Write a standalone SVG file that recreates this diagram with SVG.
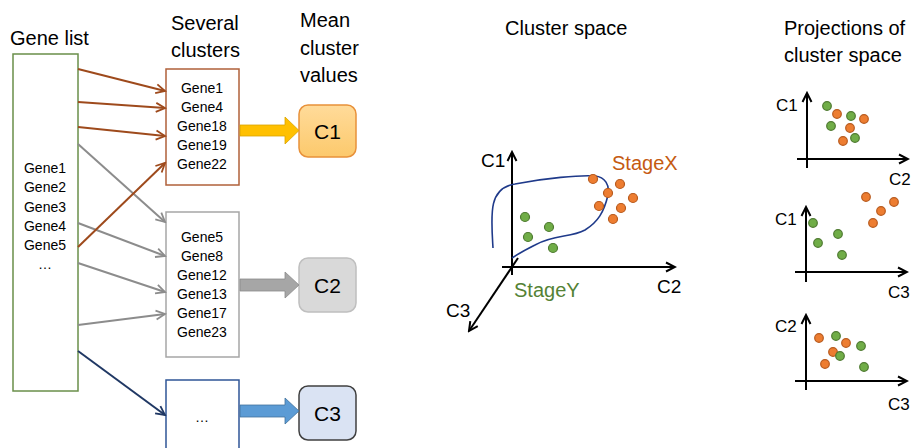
<svg xmlns="http://www.w3.org/2000/svg" width="917" height="448" viewBox="0 0 917 448">
<style>
text{font-family:"Liberation Sans",Arial,sans-serif;fill:#000}
.h{font-size:20px}
.g{font-size:14px;text-anchor:middle}
.c{font-size:21px;text-anchor:middle}
.ax{font-size:19px}
.pl{font-size:17px}
.box{fill:#fff;stroke-width:1.5}
.ln{fill:none;stroke-width:2}
.axis{fill:none;stroke:#000;stroke-width:2;marker-end:url(#mk)}
.o{fill:#ed7d31;stroke:#b85a1d;stroke-width:1.2}
.gr{fill:#70ad47;stroke:#4e7a30;stroke-width:1.2}
</style>
<defs>
<marker id="mb" markerUnits="userSpaceOnUse" markerWidth="12" markerHeight="12" refX="10" refY="5" orient="auto" viewBox="0 0 12 10"><path d="M1,0.5 L10,5 L1,9.5" fill="none" stroke="#9e4a1c" stroke-width="1.8"/></marker>
<marker id="mg" markerUnits="userSpaceOnUse" markerWidth="12" markerHeight="12" refX="10" refY="5" orient="auto" viewBox="0 0 12 10"><path d="M1,0.5 L10,5 L1,9.5" fill="none" stroke="#8c8c8c" stroke-width="1.8"/></marker>
<marker id="mn" markerUnits="userSpaceOnUse" markerWidth="12" markerHeight="12" refX="10" refY="5" orient="auto" viewBox="0 0 12 10"><path d="M1,0.5 L10,5 L1,9.5" fill="none" stroke="#203864" stroke-width="1.8"/></marker>
<marker id="mk" markerUnits="userSpaceOnUse" markerWidth="12" markerHeight="12" refX="10" refY="5" orient="auto" viewBox="0 0 12 10"><path d="M1,0.5 L10,5 L1,9.5" fill="none" stroke="#000" stroke-width="2"/></marker>
<linearGradient id="gC1" x1="0" y1="0" x2="0" y2="1"><stop offset="0" stop-color="#ffdb9a"/><stop offset="1" stop-color="#fcc96c"/></linearGradient>
</defs>

<g id="titles">
<text class="h" x="10" y="45">Gene list</text>
<text class="h" x="171" y="30">Several</text>
<text class="h" x="171" y="57">clusters</text>
<text class="h" x="300" y="27">Mean</text>
<text class="h" x="300" y="55">cluster</text>
<text class="h" x="300" y="82">values</text>
<text class="h" x="505" y="35">Cluster space</text>
<text class="h" x="784" y="35">Projections of</text>
<text class="h" x="784" y="62">cluster space</text>
</g>

<g id="gene-list">
<rect class="box" x="13" y="54" width="65" height="337" stroke="#6a8f4a"/>
<text class="g" x="45" y="173">Gene1</text>
<text class="g" x="45" y="192">Gene2</text>
<text class="g" x="45" y="212">Gene3</text>
<text class="g" x="45" y="231">Gene4</text>
<text class="g" x="45" y="250">Gene5</text>
<text class="g" x="45" y="269">…</text>
</g>

<g id="cluster1">
<rect class="box" x="166" y="69" width="73" height="116" stroke="#b0603a"/>
<text class="g" x="202" y="93">Gene1</text>
<text class="g" x="202" y="112">Gene4</text>
<text class="g" x="202" y="131">Gene18</text>
<text class="g" x="202" y="150">Gene19</text>
<text class="g" x="202" y="169">Gene22</text>
</g>

<g id="cluster2">
<rect class="box" x="166" y="212" width="73" height="145" stroke="#a6a6a6"/>
<text class="g" x="202" y="242">Gene5</text>
<text class="g" x="202" y="261">Gene8</text>
<text class="g" x="202" y="280">Gene12</text>
<text class="g" x="202" y="299">Gene13</text>
<text class="g" x="202" y="318">Gene17</text>
<text class="g" x="202" y="337">Gene23</text>
</g>

<g id="cluster3">
<rect class="box" x="166" y="380" width="73" height="80" stroke="#2f5597"/>
<text class="g" x="202" y="422">…</text>
</g>

<g id="C1">
<rect x="299" y="105" width="57" height="52" rx="9" fill="url(#gC1)" stroke="#e8913a" stroke-width="1.5"/>
<text class="c" x="327.5" y="139">C1</text>
</g>
<g id="C2">
<rect x="299" y="258" width="57" height="54" rx="9" fill="#d9d9d9" stroke="#bfbfbf" stroke-width="1.5"/>
<text class="c" x="327.5" y="293">C2</text>
</g>
<g id="C3">
<rect x="299" y="386" width="57" height="54" rx="9" fill="#dae3f3" stroke="#404040" stroke-width="1.5"/>
<text class="c" x="327.5" y="421">C3</text>
</g>

<g id="connectors">
<line class="ln" x1="78" y1="69" x2="165" y2="91" stroke="#9e4a1c" marker-end="url(#mb)"/>
<line class="ln" x1="78" y1="102" x2="165" y2="108" stroke="#9e4a1c" marker-end="url(#mb)"/>
<line class="ln" x1="78" y1="127" x2="165" y2="136" stroke="#9e4a1c" marker-end="url(#mb)"/>
<line class="ln" x1="78" y1="144" x2="165" y2="222" stroke="#8c8c8c" marker-end="url(#mg)"/>
<line class="ln" x1="78" y1="223" x2="165" y2="256" stroke="#8c8c8c" marker-end="url(#mg)"/>
<line class="ln" x1="78" y1="263" x2="165" y2="292" stroke="#8c8c8c" marker-end="url(#mg)"/>
<line class="ln" x1="78" y1="325" x2="165" y2="314" stroke="#8c8c8c" marker-end="url(#mg)"/>
<line class="ln" x1="78" y1="247" x2="165" y2="163" stroke="#9e4a1c" marker-end="url(#mb)"/>
<line class="ln" x1="78" y1="351" x2="165" y2="415" stroke="#203864" marker-end="url(#mn)"/>
<polygon points="240,125 285,125 285,117 299,130.5 285,144 285,136 240,136" fill="#ffc000" stroke="#d9a300" stroke-width="0.8"/>
<polygon points="240,279 285,279 285,272 299,285 285,298 285,291 240,291" fill="#a6a6a6" stroke="#8c8c8c" stroke-width="0.8"/>
<polygon points="240,405 285,405 285,398 299,411 285,424 285,417 240,417" fill="#5b9bd5" stroke="#41719c" stroke-width="0.8"/>
</g>

<g id="cluster-space">
<line class="axis" x1="512" y1="275" x2="512" y2="152"/>
<line class="axis" x1="502" y1="267" x2="675" y2="267"/>
<line class="axis" x1="518" y1="258" x2="469" y2="331"/>
<path d="M493,248 C491,215 488,188 515,184 C545,178 580,175 595,176 C605,177 610,185 608,195 C604,212 598,222 585,230 C570,238 555,234 535,245 C525,250 518,254 512,258" fill="none" stroke="#1f3a8a" stroke-width="1.6"/>
<circle class="o" cx="593" cy="179" r="4.5"/>
<circle class="o" cx="620" cy="184" r="4.5"/>
<circle class="o" cx="608" cy="193" r="4.5"/>
<circle class="o" cx="633" cy="198" r="4.5"/>
<circle class="o" cx="599" cy="206" r="4.5"/>
<circle class="o" cx="621" cy="208" r="4.5"/>
<circle class="o" cx="613" cy="219" r="4.5"/>
<circle class="gr" cx="525" cy="217" r="4.5"/>
<circle class="gr" cx="549" cy="227" r="4.5"/>
<circle class="gr" cx="528" cy="237" r="4.5"/>
<circle class="gr" cx="553" cy="248" r="4.5"/>
<text class="ax" x="481" y="167">C1</text>
<text class="ax" x="657" y="293">C2</text>
<text class="ax" x="446" y="317">C3</text>
<text class="h" x="612" y="170" style="fill:#c55a11">StageX</text>
<text class="h" x="514" y="297" style="fill:#548235">StageY</text>
</g>

<g id="projection-c1-c2">
<line class="axis" x1="807" y1="168" x2="807" y2="93"/>
<line class="axis" x1="797" y1="159" x2="908" y2="159"/>
<text class="pl" x="776" y="111">C1</text>
<text class="pl" x="889" y="185">C2</text>
<circle class="gr" cx="827" cy="106" r="4.3"/>
<circle class="o" cx="837" cy="114" r="4.3"/>
<circle class="gr" cx="851" cy="116" r="4.3"/>
<circle class="o" cx="864" cy="119" r="4.3"/>
<circle class="gr" cx="831" cy="126" r="4.3"/>
<circle class="o" cx="850" cy="128" r="4.3"/>
<circle class="o" cx="843" cy="141" r="4.3"/>
<circle class="gr" cx="855" cy="138" r="4.3"/>
</g>

<g id="projection-c1-c3">
<line class="axis" x1="806" y1="282" x2="806" y2="207"/>
<line class="axis" x1="795" y1="272" x2="907" y2="272"/>
<text class="pl" x="775" y="225">C1</text>
<text class="pl" x="888" y="298">C3</text>
<circle class="o" cx="866" cy="197" r="4.3"/>
<circle class="o" cx="894" cy="202" r="4.3"/>
<circle class="o" cx="881" cy="211" r="4.3"/>
<circle class="o" cx="873" cy="223" r="4.3"/>
<circle class="gr" cx="813" cy="223" r="4.3"/>
<circle class="gr" cx="838" cy="234" r="4.3"/>
<circle class="gr" cx="818" cy="243" r="4.3"/>
<circle class="gr" cx="842" cy="255" r="4.3"/>
</g>

<g id="projection-c2-c3">
<line class="axis" x1="806" y1="390" x2="806" y2="315"/>
<line class="axis" x1="795" y1="381" x2="907" y2="381"/>
<text class="pl" x="775" y="332">C2</text>
<text class="pl" x="888" y="410">C3</text>
<circle class="o" cx="819" cy="338" r="4.3"/>
<circle class="gr" cx="836" cy="336" r="4.3"/>
<circle class="o" cx="846" cy="343" r="4.3"/>
<circle class="gr" cx="861" cy="346" r="4.3"/>
<circle class="o" cx="833" cy="352" r="4.3"/>
<circle class="gr" cx="840" cy="356" r="4.3"/>
<circle class="o" cx="825" cy="364" r="4.3"/>
<circle class="gr" cx="864" cy="367" r="4.3"/>
</g>
</svg>
